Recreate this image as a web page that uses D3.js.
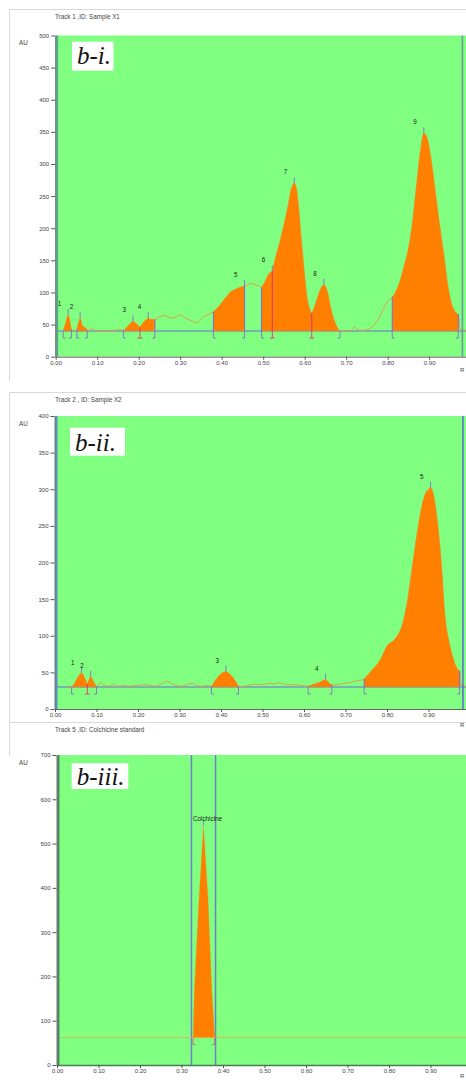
<!DOCTYPE html>
<html>
<head>
<meta charset="utf-8">
<script src="https://cdn.jsdelivr.net/npm/d3@7"></script>
<style>
  html, body { margin: 0; padding: 0; background: #fff; }
  svg { display: block; font-family: "Liberation Sans", Arial, sans-serif; }
</style>
</head>
<body>
<svg id="chart" width="466" height="1080"></svg>
<script>
// ---- shared axis ticks ----
const rfTicks = [0, 0.1, 0.2, 0.3, 0.4, 0.5, 0.6, 0.7, 0.8, 0.9];
const rfTickLabels = ["0.00", "0.10", "0.20", "0.30", "0.40", "0.50", "0.60", "0.70", "0.80", "0.90"];

// ---- Track 1, Sample X1 ----
const x1Rf = [0.018, 0.024, 0.030, 0.034, 0.038, 0.046, 0.051, 0.055, 0.059, 0.063, 0.068, 0.072, 0.076,
  0.085, 0.090, 0.095, 0.105, 0.120, 0.135, 0.150, 0.163, 0.172, 0.180, 0.186, 0.193, 0.203, 0.210, 0.217,
  0.223, 0.230, 0.239, 0.244, 0.252, 0.262, 0.272, 0.283, 0.292, 0.300, 0.308, 0.316, 0.326, 0.340, 0.348,
  0.356, 0.366, 0.380, 0.390, 0.400, 0.410, 0.420, 0.430, 0.445, 0.455, 0.462, 0.470, 0.480, 0.490, 0.496,
  0.505, 0.515, 0.522, 0.530, 0.540, 0.550, 0.560, 0.568, 0.575, 0.580, 0.585, 0.590, 0.595, 0.600, 0.605,
  0.610, 0.617, 0.625, 0.635, 0.646, 0.655, 0.663, 0.672, 0.680, 0.685, 0.700, 0.712, 0.720, 0.728, 0.740,
  0.755, 0.768, 0.780, 0.790, 0.800, 0.811, 0.820, 0.830, 0.840, 0.850, 0.860, 0.870, 0.880, 0.887, 0.895,
  0.905, 0.915, 0.925, 0.935, 0.945, 0.955, 0.965, 0.970, 0.975, 0.990, 1.000];
const x1AU = [40, 52, 65, 55, 42, 40, 42, 52, 60, 50, 46, 45, 41,
  42, 45, 41, 40, 41, 40, 42, 41, 46, 52, 55, 52, 46, 52, 57,
  60, 58, 58, 60, 63, 64, 62, 60, 63, 65, 62, 59, 56, 53, 57,
  62, 65, 70, 76, 84, 92, 100, 104, 108, 110, 112, 114, 112, 110, 108,
  118, 130, 133, 155, 178, 205, 235, 262, 270, 262, 235, 195, 160, 125, 95,
  78, 68, 80, 100, 112, 100, 75, 55, 44, 40, 40, 41, 46, 42, 41,
  43, 50, 62, 75, 86, 93, 102, 118, 142, 168, 210, 270, 325, 348, 340,
  305, 255, 205, 160, 110, 80, 68, 66, 42, 41, 40];
const x1PeakNames = ["1", "2", "3", "4", "5", "6", "7", "8", "9"];
const x1PeakStart = [0.018, 0.051, 0.163, 0.203, 0.380, 0.496, 0.522, 0.617, 0.811];
const x1PeakEnd   = [0.038, 0.076, 0.203, 0.239, 0.455, 0.522, 0.617, 0.685, 0.970];
const x1PeakApex  = [0.030, 0.059, 0.186, 0.223, 0.455, 0.522, 0.575, 0.646, 0.887];
const x1YTicks = [0, 50, 100, 150, 200, 250, 300, 350, 400, 450, 500];
const x1Baseline = 40;

// ---- Track 2, Sample X2 ----
const x2Rf = [0.030, 0.040, 0.048, 0.056, 0.064, 0.070, 0.076, 0.078, 0.082, 0.086, 0.092, 0.100, 0.105,
  0.110, 0.118, 0.128, 0.140, 0.150, 0.165, 0.180, 0.195, 0.210, 0.225, 0.240, 0.255, 0.268, 0.280, 0.292,
  0.305, 0.318, 0.330, 0.342, 0.355, 0.368, 0.377, 0.385, 0.395, 0.405, 0.412, 0.420, 0.430, 0.438, 0.442,
  0.455, 0.470, 0.486, 0.500, 0.515, 0.528, 0.540, 0.552, 0.565, 0.580, 0.595, 0.610, 0.625, 0.640, 0.652,
  0.660, 0.667, 0.680, 0.695, 0.710, 0.722, 0.735, 0.745, 0.755, 0.765, 0.778, 0.790, 0.800, 0.813, 0.825,
  0.837, 0.850, 0.860, 0.870, 0.880, 0.890, 0.900, 0.905, 0.912, 0.920, 0.930, 0.940, 0.950, 0.960, 0.968,
  0.975, 0.978, 0.990, 1.000];
const x2AU = [30, 30, 36, 44, 49, 44, 36, 34, 40, 44, 38, 31, 33,
  36, 33, 31, 34, 31, 32, 31, 32, 33, 33, 31, 34, 38, 35, 32,
  31, 33, 35, 32, 31, 32, 31, 38, 45, 50, 51, 48, 42, 35, 31,
  31, 33, 34, 33, 35, 34, 36, 34, 33, 33, 32, 31, 34, 37, 40,
  36, 33, 33, 35, 36, 38, 39, 41, 47, 54, 62, 74, 86, 92, 100,
  115, 150, 190, 230, 265, 290, 300, 302, 292, 262, 205, 125, 90, 68, 56,
  52, 32, 31, 30];
const x2PeakNames = ["1", "2", "3", "4", "5"];
const x2PeakStart = [0.040, 0.078, 0.377, 0.610, 0.745];
const x2PeakEnd   = [0.078, 0.100, 0.442, 0.667, 0.975];
const x2PeakApex  = [0.064, 0.086, 0.412, 0.652, 0.905];
const x2YTicks = [0, 50, 100, 150, 200, 250, 300, 350, 400];
const x2Baseline = 30;

// ---- Track 5, Colchicine standard ----
const stdRf = [0.000, 0.328, 0.331, 0.342, 0.353, 0.364, 0.373, 0.380, 1.000];
const stdAU = [62, 62, 169, 372, 540, 372, 169, 62, 62];
const stdPeakNames = ["Colchicine"];
const stdPeakStart = [0.328];
const stdPeakEnd   = [0.380];
const stdPeakApex  = [0.353];
const stdYTicks = [0, 100, 200, 300, 400, 500, 600, 700];
const stdBaseline = 62;
const stdWindow = [0.324, 0.382];

// ---- panel layout ----
const panels = [
  { title: "Track  1 ,ID: Sample X1", tag: "b-i.", rf: x1Rf, au: x1AU,
    names: x1PeakNames, starts: x1PeakStart, ends: x1PeakEnd, apex: x1PeakApex,
    yTicks: x1YTicks, yMax: 500, base: x1Baseline,
    cardTop: 9, cardBottom: 381, top: 35.5, bottom: 356.7, x0: 55.7,
    tagBox: [72, 41.7, 41.5, 29], tagY: 63.5, labelDy: 9, rightEdge: 0.98,
    edgeColor: "#5aa88a", rightColor: "#6f9a9a", mode: "sample", rY: 372 },
  { title: "Track  2 , ID: Sample X2", tag: "b-ii.", rf: x2Rf, au: x2AU,
    names: x2PeakNames, starts: x2PeakStart, ends: x2PeakEnd, apex: x2PeakApex,
    yTicks: x2YTicks, yMax: 400, base: x2Baseline,
    cardTop: 392, cardBottom: 722, top: 416, bottom: 709, x0: 55,
    tagBox: [70, 427.7, 55, 28], tagY: 450.5, labelDy: 8.5, rightEdge: 0.983,
    edgeColor: "#5a8ec0", rightColor: "#6070d0", mode: "sample", rY: 727 },
  { title: "Track  5 ,ID: Colchicine standard", tag: "b-iii.", rf: stdRf, au: stdAU,
    names: stdPeakNames, starts: stdPeakStart, ends: stdPeakEnd, apex: stdPeakApex,
    yTicks: stdYTicks, yMax: 700, base: stdBaseline,
    cardTop: 722, cardBottom: 756, top: 755, bottom: 1065, x0: 57,
    tagBox: [71.7, 763.3, 56.6, 25.7], tagY: 785, labelDy: 5, rightEdge: null,
    edgeColor: "#4e8a64", rightColor: null, mode: "standard", rY: 1078 }
];

const svg = d3.select("#chart");
const defs = svg.append("defs");

const FILL = "#ff8000";
const BASE = "#6c6cd8";
const TRACE = "#e6983c";
const MARK = "#8a6cd0";
const SPLIT = "#e0386a";
const SANS = "'Liberation Sans', Arial, sans-serif";
const SERIF = "'Liberation Serif', 'Times New Roman', serif";

panels.forEach((p, pi) => {
  const g = svg.append("g");
  const x = d3.scaleLinear().domain([0, 1]).range([p.x0, p.x0 + 415]);
  const y = d3.scaleLinear().domain([0, p.yMax]).range([p.bottom, p.top]);
  const traceAt = d3.scaleLinear().domain(p.rf).range(p.au).clamp(true);

  // card outline
  g.append("path")
    .attr("d", `M9.5,${p.cardBottom} V${p.cardTop + 0.5} H466`)
    .attr("fill", "none").attr("stroke", "#d9d9d9").attr("stroke-width", 1);

  // track title and unit
  g.append("text").attr("x", 55).attr("y", p.cardTop + 10)
    .attr("font-size", 6.3).attr("fill", "#444").text(p.title);
  g.append("text").attr("x", 19).attr("y", p.top + 9.5)
    .attr("font-size", 6.3).attr("fill", "#444").text("AU");

  // plot background
  g.append("rect").attr("x", p.x0).attr("y", p.top)
    .attr("width", 470 - p.x0).attr("height", p.bottom - p.top)
    .attr("fill", "#80ff80");

  const clipId = "clip" + pi;
  defs.append("clipPath").attr("id", clipId).append("rect")
    .attr("x", p.x0).attr("y", p.top).attr("width", 470 - p.x0).attr("height", p.bottom - p.top);
  const plot = g.append("g").attr("clip-path", `url(#${clipId})`);

  // standard window lines
  if (p.mode === "standard") {
    stdWindow.forEach(w => {
      plot.append("line").attr("x1", x(w)).attr("x2", x(w))
        .attr("y1", p.top).attr("y2", p.bottom)
        .attr("stroke", "#7080c8").attr("stroke-width", 1.5);
    });
  }

  // baseline
  plot.append("line").attr("x1", p.x0).attr("x2", 470)
    .attr("y1", y(p.base)).attr("y2", y(p.base))
    .attr("stroke", p.mode === "standard" ? "#d8c070" : BASE)
    .attr("stroke-width", p.mode === "standard" ? 0.8 : 1.1);

  const pts = p.rf.map((r, i) => [r, p.au[i]]);
  const curve = p.mode === "standard" ? d3.curveLinear : d3.curveMonotoneX;

  // raw trace
  plot.append("path")
    .attr("d", d3.line().x(d => x(d[0])).y(d => y(d[1])).curve(curve)(pts))
    .attr("fill", "none").attr("stroke", TRACE).attr("stroke-width", 0.9)
    .attr("opacity", p.mode === "standard" ? 0.35 : 1);

  // integrated peak areas
  const area = d3.area().x(d => x(d[0])).y0(y(p.base)).y1(d => y(d[1])).curve(curve);
  p.names.forEach((name, i) => {
    const s = p.starts[i], e = p.ends[i];
    const seg = [[s, traceAt(s)]]
      .concat(pts.filter(d => d[0] > s && d[0] < e))
      .concat([[e, traceAt(e)]]);
    plot.append("path").attr("d", area(seg)).attr("fill", FILL);
  });

  // peak boundaries and brackets
  const starts = new Set(p.starts);
  const ends = new Set(p.ends);
  const bounds = Array.from(new Set(p.starts.concat(p.ends))).sort((a, b) => a - b);
  bounds.forEach(b => {
    const shared = starts.has(b) && ends.has(b);
    const col = shared ? SPLIT : MARK;
    const bx = x(b), by = y(p.base);
    if (p.mode === "sample") {
      plot.append("line").attr("x1", bx).attr("x2", bx)
        .attr("y1", by).attr("y2", y(traceAt(b)))
        .attr("stroke", col).attr("stroke-width", 1.1);
    }
    const dir = starts.has(b) ? 1 : -1;
    plot.append("path")
      .attr("d", `M${bx},${by} V${by + 7} h${dir * 2.5}`)
      .attr("fill", "none").attr("stroke", p.mode === "standard" ? "#c86a6a" : col)
      .attr("stroke-width", 0.9);
    if (shared) {
      plot.append("path")
        .attr("d", `M${bx},${by + 7} h${-2.5}`)
        .attr("fill", "none").attr("stroke", col).attr("stroke-width", 0.9);
    }
  });

  // apex markers and peak names
  p.names.forEach((name, i) => {
    const a = p.apex[i];
    const ay = y(traceAt(a));
    plot.append("line").attr("x1", x(a)).attr("x2", x(a))
      .attr("y1", ay).attr("y2", ay - 6)
      .attr("stroke", p.mode === "standard" ? "#8a8aa0" : MARK).attr("stroke-width", 0.9);
    plot.append("text")
      .attr("x", x(a) - 10.5).attr("y", ay - p.labelDy)
      .attr("font-size", 6.3).attr("fill", "#222")
      .text(name);
  });

  // plot edges
  g.append("rect").attr("x", p.x0).attr("y", p.top).attr("width", 2.5).attr("height", p.bottom - p.top)
    .attr("fill", p.edgeColor);
  if (p.rightEdge !== null) {
    g.append("line").attr("x1", x(p.rightEdge)).attr("x2", x(p.rightEdge))
      .attr("y1", p.top).attr("y2", p.bottom)
      .attr("stroke", p.rightColor).attr("stroke-width", 1.6);
  }

  // y axis
  const yAxis = g.append("g").attr("transform", `translate(${p.x0 - 0.5},0)`)
    .call(d3.axisLeft(y).tickValues(p.yTicks).tickSize(4).tickSizeOuter(0).tickPadding(2)
      .tickFormat(d3.format("d")));
  yAxis.attr("font-family", null).attr("font-size", null);
  yAxis.select(".domain").attr("stroke", "#777");
  yAxis.selectAll(".tick line").attr("stroke", "#555");
  yAxis.selectAll(".tick text").attr("font-size", 6).attr("fill", "#444").style("font-family", SANS);

  // x axis
  const xAxis = g.append("g").attr("transform", `translate(0,${p.bottom})`)
    .call(d3.axisBottom(x).tickValues(rfTicks).tickSize(3).tickSizeOuter(0).tickPadding(1)
      .tickFormat((d, i) => rfTickLabels[i]));
  xAxis.select(".domain").attr("stroke", p.mode === "standard" ? "#4a7a5a" : "#666")
    .attr("stroke-width", p.mode === "standard" ? 1.6 : 1);
  xAxis.selectAll(".tick line").attr("stroke", "#555");
  xAxis.selectAll(".tick text").attr("font-size", 6).attr("fill", "#444").style("font-family", SANS);

  g.append("text").attr("x", 460).attr("y", p.rY)
    .attr("font-size", 6).attr("fill", "#444").text("R");

  // panel tag
  g.append("rect").attr("x", p.tagBox[0]).attr("y", p.tagBox[1])
    .attr("width", p.tagBox[2]).attr("height", p.tagBox[3]).attr("fill", "#fff");
  g.append("text").attr("x", p.tagBox[0] + 5).attr("y", p.tagY)
    .style("font-family", SERIF)
    .style("font-style", "italic").attr("font-size", 25).attr("fill", "#111")
    .text(p.tag);
});
</script>
</body>
</html>
